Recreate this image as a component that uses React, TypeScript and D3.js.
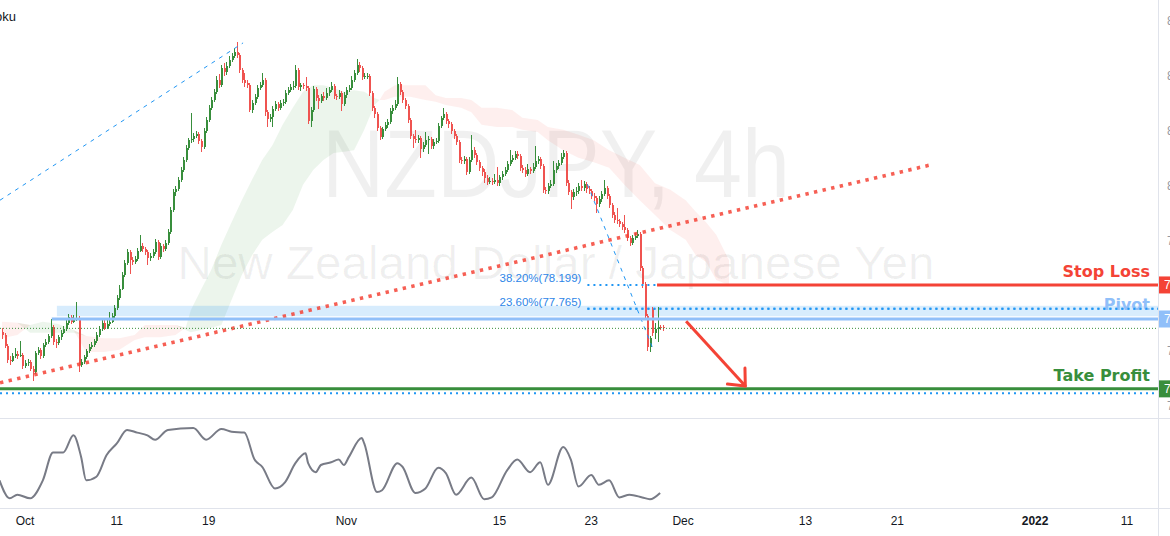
import * as d3 from 'd3';

// NZDJPY 4h candles (bar 0 = Sep 29 2021). Open = previous close unless listed in gapOpens.
const closes = [
  77.29, 77.09, 76.83, 76.82, 76.91, 76.94, 76.91, 76.93, 76.73, 76.78,
  76.8, 76.67, 76.62, 76.96, 77.02, 76.91, 77.11, 77.16, 77.27, 77.43,
  77.16, 77.15, 77.25, 77.33, 77.4, 77.51, 77.62, 77.53, 77.6, 77.6,
  76.74, 76.8, 76.89, 77.0, 77.07, 77.11, 77.18, 77.29, 77.4, 77.51,
  77.42, 77.49, 77.53, 77.64, 77.78, 77.96, 78.13, 78.38, 78.6, 78.8,
  78.65, 78.62, 78.67, 78.82, 78.91, 78.85, 78.8, 78.69, 78.73, 78.8,
  78.98, 78.71, 78.91, 78.85, 78.96, 79.16, 79.56, 79.89, 79.94, 80.11,
  80.29, 80.47, 80.69, 80.83, 80.85, 80.91, 80.94, 80.82, 80.71, 81.0,
  81.2, 81.42, 81.56, 81.71, 81.93, 81.83, 82.14, 82.07, 82.18, 82.29,
  82.36, 82.43, 82.38, 82.11, 81.93, 81.87, 81.83, 81.38, 81.51, 81.62,
  81.78, 81.83, 81.93, 81.34, 81.22, 81.25, 81.4, 81.49, 81.42, 81.51,
  81.53, 81.69, 81.74, 81.8, 81.82, 82.11, 81.8, 81.83, 81.82, 81.78,
  81.18, 81.38, 81.76, 81.6, 81.54, 81.63, 81.6, 81.69, 81.74, 81.82,
  81.63, 81.62, 81.69, 81.49, 81.65, 81.74, 81.78, 81.93, 82.05, 82.2,
  82.14, 81.98, 82.0, 82.0, 81.69, 81.42, 81.31, 81.05, 80.89, 81.03,
  81.11, 81.16, 81.36, 81.42, 81.49, 81.85, 81.71, 81.56, 81.45, 81.2,
  80.91, 80.85, 80.83, 80.87, 80.67, 80.74, 80.83, 80.85, 80.73, 80.8,
  80.82, 81.09, 81.23, 81.31, 81.18, 81.13, 81.0, 80.91, 80.8, 80.47,
  80.45, 80.49, 80.25, 80.47, 80.65, 80.56, 80.43, 80.33, 80.25, 80.14,
  80.07, 80.09, 80.07, 80.11, 80.05, 80.16, 80.22, 80.29, 80.4, 80.47,
  80.51, 80.58, 80.54, 80.33, 80.29, 80.22, 80.31, 80.27, 80.34, 80.45,
  80.49, 80.36, 79.93, 79.91, 80.0, 80.03, 80.29, 80.36, 80.42, 80.53,
  80.6, 80.05, 79.89, 79.8, 79.89, 79.91, 80.0, 79.96, 80.03, 79.94,
  79.91, 79.82, 79.78, 79.67, 79.76, 79.85, 79.96, 79.82, 79.65, 79.47,
  79.38, 79.36, 79.31, 79.25, 79.2, 79.05, 78.96, 79.05, 79.09, 79.13,
  78.51, 78.22, 77.64, 77.07, 77.23, 77.33, 77.4, 77.44, 77.43, 77.41,
];
const highs = [
  77.42, 77.33, 77.12, 76.9, 76.96, 77.05, 76.99, 77.18, 76.97, 76.84,
  76.86, 76.83, 76.72, 77.0, 77.07, 77.06, 77.15, 77.21, 77.31, 77.58,
  77.47, 77.22, 77.29, 77.38, 77.45, 77.56, 77.68, 77.66, 77.66, 77.89,
  77.63, 76.86, 76.93, 77.04, 77.12, 77.16, 77.22, 77.34, 77.45, 77.58,
  77.56, 77.58, 77.71, 77.69, 77.84, 78.02, 78.2, 78.44, 78.66, 78.86,
  78.84, 78.7, 78.72, 78.87, 79.1, 78.96, 78.89, 78.84, 78.78, 78.85,
  79.04, 79.02, 78.96, 78.95, 79.01, 79.22, 79.62, 79.95, 80.0, 80.17,
  80.35, 80.53, 80.75, 80.88, 81.32, 80.96, 81.0, 80.98, 80.86, 81.05,
  81.26, 81.48, 81.62, 81.77, 82.0, 82.04, 82.2, 82.24, 82.26, 82.36,
  82.42, 82.5, 82.62, 82.42, 82.15, 82.06, 81.92, 81.87, 81.56, 81.68,
  81.84, 81.89, 82.05, 81.97, 81.38, 81.31, 81.45, 81.55, 81.53, 81.56,
  81.58, 81.74, 81.8, 81.86, 81.9, 82.2, 82.14, 81.88, 81.87, 81.98,
  81.82, 81.43, 81.81, 81.8, 81.65, 81.68, 81.7, 81.78, 81.8, 81.89,
  81.86, 81.68, 81.74, 81.73, 81.7, 81.79, 81.84, 81.99, 82.1, 82.3,
  82.26, 82.18, 82.06, 82.05, 82.03, 81.73, 81.46, 81.35, 81.09, 81.08,
  81.16, 81.22, 81.42, 81.48, 81.56, 81.98, 81.89, 81.75, 81.6, 81.49,
  81.24, 80.95, 81.02, 80.92, 80.91, 80.79, 80.98, 80.9, 80.89, 80.85,
  80.88, 81.14, 81.28, 81.42, 81.35, 81.22, 81.17, 81.04, 80.95, 80.84,
  80.52, 80.55, 80.53, 80.52, 80.92, 80.7, 80.6, 80.47, 80.37, 80.3,
  80.19, 80.17, 80.14, 80.22, 80.34, 80.2, 80.27, 80.34, 80.46, 80.65,
  80.57, 80.64, 80.63, 80.58, 80.38, 80.34, 80.4, 80.35, 80.42, 80.72,
  80.55, 80.53, 80.4, 79.98, 80.05, 80.1, 80.45, 80.42, 80.48, 80.6,
  80.66, 80.64, 80.1, 79.93, 79.95, 79.98, 80.06, 80.1, 80.09, 80.08,
  79.99, 79.95, 79.87, 79.82, 79.82, 79.9, 80.1, 80.0, 79.86, 79.69,
  79.52, 79.6, 79.4, 79.35, 79.47, 79.24, 79.09, 79.1, 79.14, 79.2,
  79.17, 78.55, 78.26, 77.68, 77.28, 77.8, 77.5, 77.8, 77.48, 77.47,
];
const lows = [
  77.22, 77.05, 76.78, 76.75, 76.79, 76.88, 76.86, 76.89, 76.68, 76.69,
  76.72, 76.63, 76.45, 76.58, 76.92, 76.86, 76.88, 77.08, 77.13, 77.24,
  77.1, 77.06, 77.11, 77.2, 77.3, 77.37, 77.48, 77.49, 77.5, 77.55,
  76.62, 76.7, 76.76, 76.85, 76.96, 77.03, 77.08, 77.15, 77.25, 77.37,
  77.38, 77.39, 77.45, 77.5, 77.6, 77.75, 77.92, 78.1, 78.35, 78.56,
  78.4, 78.57, 78.58, 78.63, 78.79, 78.8, 78.75, 78.56, 78.64, 78.69,
  78.76, 78.66, 78.67, 78.8, 78.81, 78.92, 79.12, 79.52, 79.82, 79.9,
  80.07, 80.25, 80.43, 80.65, 80.78, 80.8, 80.87, 80.76, 80.62, 80.68,
  80.96, 81.16, 81.38, 81.52, 81.67, 81.78, 81.8, 82.0, 82.02, 82.14,
  82.25, 82.32, 82.33, 82.05, 81.88, 81.8, 81.78, 81.34, 81.33, 81.47,
  81.58, 81.74, 81.79, 81.28, 81.07, 81.16, 81.08, 81.36, 81.37, 81.38,
  81.46, 81.49, 81.65, 81.7, 81.74, 81.78, 81.75, 81.72, 81.77, 81.73,
  81.12, 81.07, 81.34, 81.55, 81.4, 81.5, 81.55, 81.56, 81.64, 81.7,
  81.58, 81.56, 81.58, 81.36, 81.45, 81.6, 81.7, 81.74, 81.89, 82.01,
  82.08, 81.93, 81.94, 81.94, 81.63, 81.36, 81.24, 80.99, 80.84, 80.85,
  80.99, 81.06, 81.12, 81.31, 81.38, 81.45, 81.66, 81.5, 81.4, 81.15,
  80.86, 80.69, 80.78, 80.78, 80.5, 80.62, 80.7, 80.58, 80.68, 80.68,
  80.76, 80.78, 81.05, 81.2, 81.13, 81.05, 80.95, 80.86, 80.74, 80.42,
  80.4, 80.4, 80.2, 80.21, 80.43, 80.5, 80.38, 80.27, 80.18, 80.05,
  80.02, 80.03, 80.02, 80.04, 80.0, 80.0, 80.11, 80.18, 80.25, 80.36,
  80.43, 80.47, 80.49, 80.28, 80.24, 80.16, 80.18, 80.22, 80.23, 80.3,
  80.4, 80.31, 79.87, 79.85, 79.86, 79.96, 79.99, 80.24, 80.31, 80.38,
  80.49, 79.99, 79.83, 79.58, 79.75, 79.82, 79.86, 79.9, 79.91, 79.88,
  79.85, 79.76, 79.72, 79.5, 79.62, 79.71, 79.81, 79.77, 79.6, 79.41,
  79.32, 79.3, 79.25, 79.19, 79.14, 78.99, 78.9, 78.92, 79.01, 79.06,
  78.45, 78.15, 77.58, 77.0, 76.98, 77.28, 77.22, 77.16, 77.38, 77.37,
];
const gapOpens = [
  [0, 77.35],
  [255, 77.76],
];

// Ichimoku cloud edges (leading spans), read at these bars
const cloudBars = [
  0, 6, 11, 16, 22, 28, 33, 40, 46, 52, 56, 62, 68, 72, 74, 78, 82, 86, 90, 94,
  98, 102, 106, 110, 114, 118, 122, 126, 130, 134, 138, 142, 146, 148, 150, 154,
  160, 166, 170, 174, 180, 184, 188, 194, 200, 204, 210, 214, 220, 226, 232, 238,
  244, 250, 256, 262, 268, 272, 276, 280, 285,
];
const spanA = [
  77.23, 77.29, 77.47, 77.53, 77.49, 77.38, 76.98, 76.98, 77.02, 77.2, 77.25,
  77.25, 77.29, 77.42, 77.74, 78.11, 78.47, 78.93, 79.34, 79.74, 80.11, 80.47,
  80.74, 81.11, 81.42, 81.71, 81.83, 81.83, 81.78, 81.71, 81.74, 81.71, 81.6,
  81.56, 81.56, 81.62, 81.62, 81.56, 81.53, 81.47, 81.42, 81.34, 81.11, 81.07,
  81.07, 81.02, 80.98, 80.83, 80.65, 80.51, 80.43, 80.33, 80.02, 79.74, 79.47,
  79.2, 79.02, 78.74, 78.62, 78.29, 78.2,
];
const spanB = [
  77.53, 77.51, 77.33, 77.33, 77.33, 77.33, 77.27, 77.23, 77.23, 77.29, 77.47,
  77.47, 77.47, 77.38, 77.34, 77.38, 77.42, 77.47, 77.93, 78.38, 78.74, 79.02,
  79.16, 79.29, 79.56, 80.02, 80.29, 80.47, 80.6, 80.62, 80.65, 81.02, 81.47,
  81.56, 81.71, 81.83, 81.83, 81.83, 81.65, 81.6, 81.6, 81.56, 81.42, 81.42,
  81.38, 81.24, 81.2, 81.07, 81.02, 80.93, 80.83, 80.65, 80.51, 80.38, 80.05,
  79.93, 79.74, 79.53, 79.34, 79.11, 78.65,
];

// lower pane oscillator
const oscBars = [
  -1, 3, 6, 11, 16, 20, 24, 28, 31, 33, 37, 41, 45, 49, 53, 57, 60, 65, 75, 80,
  86, 90, 95, 99, 102, 107, 111, 115, 119, 120, 123, 125, 129, 132, 134, 136,
  141, 142, 147, 149, 155, 157, 162, 166, 171, 174, 178, 184, 189, 192, 198,
  202, 207, 211, 214, 220, 223, 226, 231, 234, 238, 242, 246, 251, 254, 258,
];
const oscValues = [
  33, 13, 17, 13, 33, 64, 64, 83, 59, 33, 37, 61, 74, 89, 86, 83, 78, 89, 91, 78,
  90, 87, 86, 56, 48, 24, 31, 52, 63, 52, 42, 50, 53, 56, 50, 59, 80, 74, 20,
  22, 52, 48, 19, 24, 47, 41, 17, 36, 12, 14, 44, 56, 42, 53, 28, 70, 56, 26,
  39, 28, 33, 14, 17, 14, 12, 19,
];

// drawings
const stopLoss = 78.199;
const stopStartBar = 256.8;
const pivot = 77.58;
const pivotStartBar = 19.5;
const pivotZone = [77.63, 77.82];
const zoneStartBar = 21.5;
const takeProfit = 76.31;
const extLevel = 76.23;
const fibStart = { bar: 229.5, price: 80.03 };
const fibEnd = { bar: 255, price: 77.06 };
const fibLevels = [
  { ratio: 38.2, price: 78.199 },
  { ratio: 23.6, price: 77.765 },
];
const redTrend = [
  { bar: -0.8, price: 76.42 },
  { bar: 363.9, price: 80.38 },
];
const blueTrend = [
  { bar: -0.8, price: 79.74 },
  { bar: 94.5, price: 82.6 },
];
const arrowPts = [
  { bar: 268.2, price: 77.54 },
  { bar: 291.4, price: 76.36 },
];

// time axis: trading days after Oct 1, 6 bars a day, Oct 1 is bar 9
const timeDays = [0, 6, 12, 21, 31, 37, 43, 51, 57, 66, 72];
const timeText = ['Oct', '11', '19', 'Nov', '15', '23', 'Dec', '13', '21', '2022', '11'];

const W = 1170;
const H = 536;
const PANE_R = 1158;
const PANE_B = 418;
const UP = '#388E3C';
const DOWN = '#EF5350';
const RED = '#F44336';
const BLUE = '#2196F3';
const PIVOT = '#90BFF9';

export default function App() {
  const x = d3.scaleLinear().domain([-0.8, 453.2]).range([0, PANE_R]);
  const y = d3.scaleLinear().domain([76, 83.38]).range([405.9, 0]);
  const yo = d3.scaleLinear().domain([0, 100]).range([510, 420]);

  const candles = closes.map((c, i) => {
    const gap = gapOpens.find((g) => g[0] === i);
    const o = gap ? gap[1] : closes[i - 1];
    return { i, o, c, h: Math.max(highs[i], o, c), l: Math.min(lows[i], o, c) };
  });

  const cloud = cloudBars.map((b, k) => ({ b, a: spanA[k], s: spanB[k] }));
  const greenArea = d3
    .area<{ b: number; a: number; s: number }>()
    .x((d) => x(d.b))
    .y0((d) => y(d.s))
    .y1((d) => y(Math.max(d.a, d.s)));
  const redArea = d3
    .area<{ b: number; a: number; s: number }>()
    .x((d) => x(d.b))
    .y0((d) => y(d.a))
    .y1((d) => y(Math.max(d.a, d.s)));

  const oscLine = d3
    .line<number>()
    .x((_, k) => x(oscBars[k]))
    .y((v) => yo(v))
    .curve(d3.curveMonotoneX);

  const seg = (pts: { bar: number; price: number }[]) =>
    d3.line<{ bar: number; price: number }>()
      .x((d) => x(d.bar))
      .y((d) => y(d.price))(pts) || '';

  // arrow head
  const ax0 = x(arrowPts[0].bar);
  const ay0 = y(arrowPts[0].price);
  const ax1 = x(arrowPts[1].bar);
  const ay1 = y(arrowPts[1].price);
  const ang = Math.atan2(ay1 - ay0, ax1 - ax0) + Math.PI;
  const head = [ang - 0.72, ang + 0.72].map((a) => [ax1 + 18 * Math.cos(a), ay1 + 18 * Math.sin(a)]);

  const lastClose = closes[closes.length - 1];
  const labelFont = '"DejaVu Sans", Verdana, sans-serif';
  const uiFont = '"Liberation Sans", Arial, sans-serif';

  const boxes = [
    { price: stopLoss, color: RED },
    { price: pivot, color: PIVOT },
    { price: takeProfit, color: UP },
  ];
  // axis labels hidden behind the level boxes are skipped
  const axisTicks = y.ticks(8).filter((t) => boxes.every((b) => Math.abs(y(t) - y(b.price)) > 12));

  return (
    <div style={{ width: W, height: H, overflow: 'hidden' }}>
      <style>{`body{margin:0;background:#fff}`}</style>
      <svg width={W} height={H} style={{ display: 'block', fontFamily: uiFont }}>
        <defs>
          <clipPath id="pane">
            <rect x={0} y={0} width={PANE_R} height={PANE_B} />
          </clipPath>
        </defs>
        <rect width={W} height={H} fill="#fff" />

        <g clipPath="url(#pane)">
          {/* watermark */}
          <text
            x={556}
            y={197}
            textAnchor="middle"
            fontSize={96}
            textLength={468}
            lengthAdjust="spacingAndGlyphs"
            fill="rgba(0,0,0,0.06)"
          >
            NZDJPY, 4h
          </text>
          <text
            x={556}
            y={279}
            textAnchor="middle"
            fontSize={46}
            textLength={757}
            lengthAdjust="spacingAndGlyphs"
            fill="rgba(0,0,0,0.06)"
          >
            New Zealand Dollar / Japanese Yen
          </text>

          {/* ichimoku cloud */}
          <path d={greenArea(cloud) || ''} fill="rgba(67,160,71,0.1)" />
          <path d={redArea(cloud) || ''} fill="rgba(244,67,54,0.085)" />

          {/* pivot zone */}
          <rect
            x={x(zoneStartBar)}
            y={y(pivotZone[1])}
            width={PANE_R - x(zoneStartBar)}
            height={y(pivotZone[0]) - y(pivotZone[1])}
            fill="rgba(33,150,243,0.18)"
          />

          {/* candles */}
          <g shapeRendering="crispEdges">
            {candles.map((d) => {
              const xc = Math.round(x(d.i));
              const col = d.c >= d.o ? UP : DOWN;
              const top = y(Math.max(d.o, d.c));
              const bot = y(Math.min(d.o, d.c));
              return (
                <g key={d.i}>
                  <rect x={xc} y={y(d.h)} width={1} height={Math.max(1, y(d.l) - y(d.h))} fill={col} />
                  <rect x={xc - 0.5} y={top} width={2} height={Math.max(1, bot - top)} fill={col} />
                </g>
              );
            })}
          </g>

          {/* trend lines */}
          <path d={seg(blueTrend)} stroke={BLUE} strokeWidth={1} strokeDasharray="4 5" fill="none" />
          <path
            d={seg(redTrend)}
            stroke={RED}
            strokeOpacity={0.85}
            strokeWidth={3.6}
            strokeDasharray="3.4 5.4"
            fill="none"
          />

          {/* fib retracement */}
          <path d={seg([fibStart, fibEnd])} stroke={BLUE} strokeWidth={1} strokeDasharray="4 5" fill="none" />
          {fibLevels.map((f) => (
            <g key={f.ratio}>
              <line
                x1={x(fibStart.bar)}
                x2={PANE_R}
                y1={y(f.price)}
                y2={y(f.price)}
                stroke={BLUE}
                strokeWidth={2}
                strokeDasharray="2 4"
              />
              <text x={x(fibStart.bar) - 6} y={y(f.price) - 3} textAnchor="end" fontSize={11.5} fill="#2E86E8">
                {`${f.ratio.toFixed(2)}%(${f.price.toFixed(3)})`}
              </text>
            </g>
          ))}

          {/* levels */}
          <line x1={x(pivotStartBar)} x2={PANE_R} y1={y(pivot)} y2={y(pivot)} stroke={PIVOT} strokeWidth={3} />
          <line x1={0} x2={PANE_R} y1={y(lastClose)} y2={y(lastClose)} stroke={UP} strokeWidth={1} strokeDasharray="1 2" />
          <line x1={x(stopStartBar)} x2={PANE_R} y1={y(stopLoss)} y2={y(stopLoss)} stroke={RED} strokeWidth={3} />
          <line x1={0} x2={PANE_R} y1={y(extLevel)} y2={y(extLevel)} stroke={BLUE} strokeWidth={2} strokeDasharray="2 4" />
          <line x1={0} x2={PANE_R} y1={y(takeProfit)} y2={y(takeProfit)} stroke={UP} strokeWidth={3} />

          {/* arrow */}
          <line x1={ax0} y1={ay0} x2={ax1} y2={ay1} stroke={RED} strokeWidth={3} />
          {head.map(([hx, hy], k) => (
            <line key={k} x1={ax1} y1={ay1} x2={hx} y2={hy} stroke={RED} strokeWidth={3} strokeLinecap="round" />
          ))}

          {/* level texts */}
          <text x={1150} y={y(stopLoss) - 8} textAnchor="end" fontFamily={labelFont} fontWeight="bold" fontSize={16} fill={RED}>
            Stop Loss
          </text>
          <text x={1150} y={y(pivot) - 9} textAnchor="end" fontFamily={labelFont} fontWeight="bold" fontSize={16} fill={PIVOT}>
            Pivot
          </text>
          <line x1={x(fibStart.bar)} x2={PANE_R} y1={y(fibLevels[1].price)} y2={y(fibLevels[1].price)} stroke={BLUE} strokeWidth={2} strokeDasharray="2 4" />
          <text x={1150} y={y(takeProfit) - 8} textAnchor="end" fontFamily={labelFont} fontWeight="bold" fontSize={16} fill={UP}>
            Take Profit
          </text>

          <text x={16} y={21} textAnchor="end" fontSize={13} fill="#131722">
            Ichimoku
          </text>
        </g>

        {/* oscillator */}
        <path d={oscLine(oscValues) || ''} fill="none" stroke="#787B86" strokeWidth={2} />

        {/* separators */}
        <line x1={PANE_R + 0.5} x2={PANE_R + 0.5} y1={0} y2={H} stroke="#E0E3EB" />
        <line x1={0} x2={W} y1={PANE_B + 0.5} y2={PANE_B + 0.5} stroke="#E0E3EB" />
        <line x1={0} x2={W} y1={508.5} y2={508.5} stroke="#E0E3EB" />

        {/* price axis (mostly cropped by the window edge) */}
        {axisTicks.map((t) => (
          <text key={t} x={1167} y={y(t) + 4} fontSize={12} fill="#9598A1">
            {t.toFixed(3)}
          </text>
        ))}
        {boxes.map((b) => (
          <g key={b.price}>
            <rect x={PANE_R + 1} y={y(b.price) - 8.5} width={W - PANE_R} height={17} fill={b.color} />
            <text x={1164} y={y(b.price) + 4} fontSize={12} fill="#fff">
              {b.price.toFixed(3)}
            </text>
          </g>
        ))}

        {/* time axis */}
        {timeDays.map((d, k) => (
          <text
            key={k}
            x={x(9 + d * 6)}
            y={525}
            textAnchor="middle"
            fontSize={12}
            fontWeight={timeText[k] === '2022' ? 'bold' : 'normal'}
            fill="#131722"
          >
            {timeText[k]}
          </text>
        ))}
      </svg>
    </div>
  );
}
